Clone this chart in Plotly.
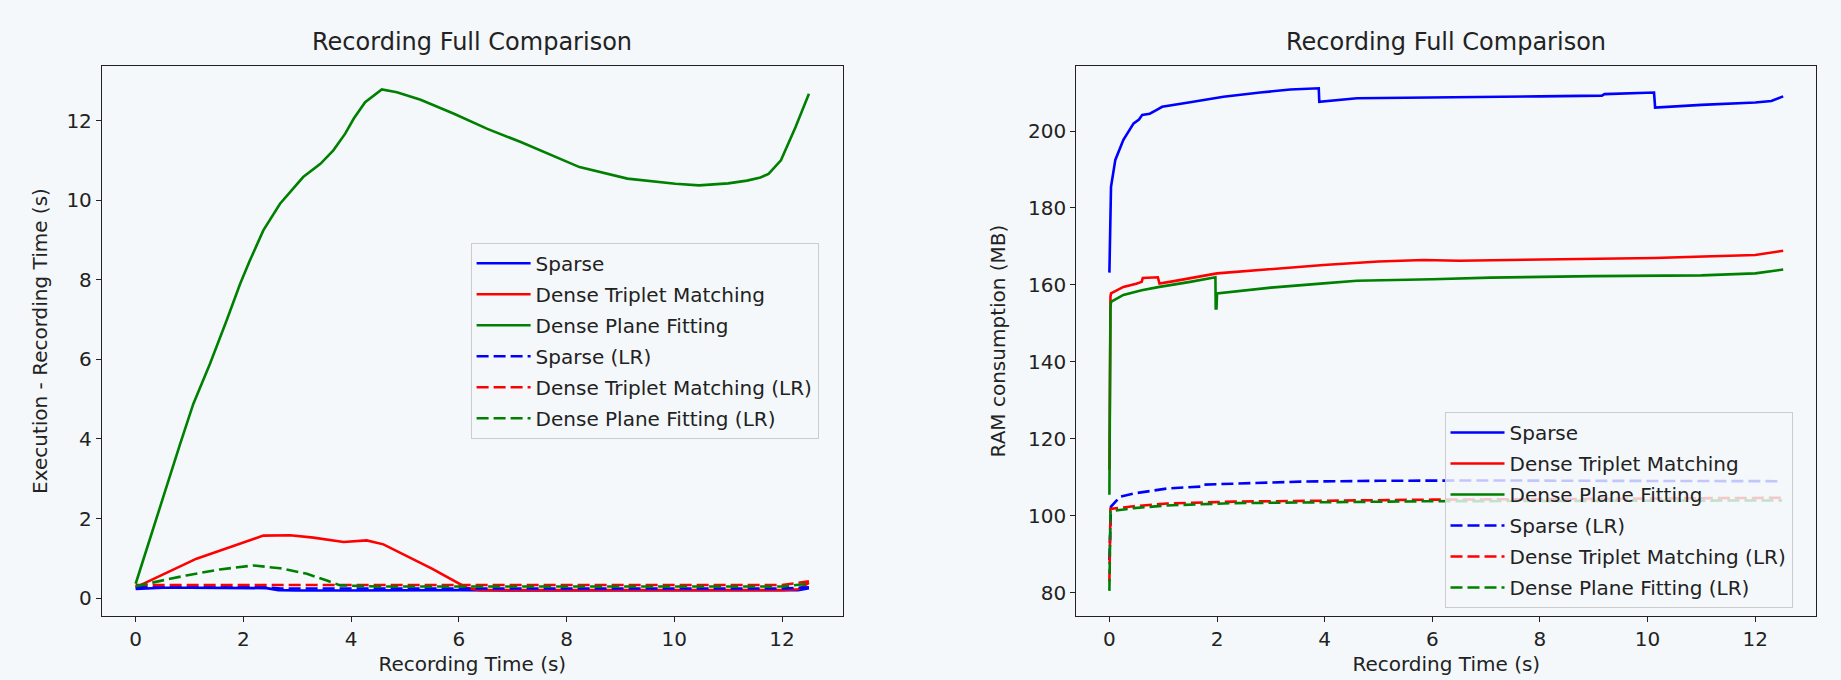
import plotly.graph_objects as go

# ---------------- Left panel: Execution - Recording Time (s) ----------------
L_sparse_t = [0, 0.5, 1.0, 1.5, 2.0, 2.43, 2.65, 3.0, 4.0, 5.0, 6.0, 7.0, 8.0, 9.0, 10.0, 11.0, 12.0, 12.3, 12.5]
L_sparse_v = [0.23, 0.26, 0.26, 0.25, 0.25, 0.25, 0.20, 0.19, 0.19, 0.20, 0.20, 0.19, 0.19, 0.19, 0.19, 0.19, 0.19, 0.20, 0.25]

L_triplet_t = [0, 0.5, 1.13, 1.8, 2.37, 2.87, 3.3, 3.86, 4.29, 4.6, 5.0, 5.5, 6.16, 6.4, 8.0, 10.0, 12.0, 12.3, 12.5]
L_triplet_v = [0.27, 0.59, 0.99, 1.30, 1.57, 1.58, 1.52, 1.41, 1.45, 1.35, 1.08, 0.74, 0.25, 0.20, 0.20, 0.20, 0.20, 0.22, 0.38]

L_plane_t = [0, 0.51, 0.82, 1.07, 1.38, 1.69, 1.94, 2.12, 2.37, 2.68, 3.11, 3.43, 3.67, 3.89, 4.05, 4.26, 4.57,
             4.85, 5.29, 5.91, 6.53, 7.15, 7.8, 8.24, 9.13, 10.02, 10.46, 11.0, 11.35, 11.6, 11.75, 11.98, 12.25, 12.5]
L_plane_v = [0.36, 2.55, 3.85, 4.88, 5.89, 6.98, 7.90, 8.48, 9.24, 9.91, 10.58, 10.91, 11.25, 11.67, 12.05, 12.46,
             12.78, 12.71, 12.52, 12.17, 11.79, 11.46, 11.08, 10.83, 10.54, 10.41, 10.37, 10.42, 10.49, 10.57,
             10.66, 11.0, 11.83, 12.67]

L_sparse_lr_t = [0, 1.0, 2.4, 2.7, 4.0, 6.0, 8.0, 10.0, 12.0, 12.5]
L_sparse_lr_v = [0.27, 0.27, 0.27, 0.24, 0.24, 0.24, 0.24, 0.24, 0.24, 0.27]

L_triplet_lr_t = [0, 2.0, 4.0, 6.0, 8.0, 10.0, 12.0, 12.5]
L_triplet_lr_v = [0.33, 0.33, 0.32, 0.33, 0.33, 0.33, 0.33, 0.42]

L_plane_lr_t = [0, 0.94, 1.56, 2.18, 2.68, 3.18, 3.55, 3.8, 4.5, 6.0, 8.0, 10.0, 12.0, 12.5]
L_plane_lr_v = [0.30, 0.57, 0.72, 0.82, 0.75, 0.61, 0.44, 0.32, 0.29, 0.29, 0.29, 0.29, 0.29, 0.36]

# ---------------- Right panel: RAM consumption (MB) ----------------
R_sparse_t = [0, 0.01, 0.03, 0.11, 0.26, 0.45, 0.55, 0.61, 0.75, 0.88, 0.98, 1.5, 2.12, 2.8, 3.36, 3.89, 3.9,
              4.6, 6.0, 7.08, 8.0, 9.15, 9.2, 10.12, 10.14, 11.0, 12.0, 12.3, 12.52]
R_sparse_v = [163.2, 172.0, 185.5, 192.5, 197.7, 202.0, 203.0, 204.2, 204.5, 205.5, 206.3, 207.5, 208.9, 210.0,
              210.8, 211.1, 207.6, 208.5, 208.7, 208.7, 209.0, 209.2, 209.6, 210.0, 206.1, 206.8, 207.4, 207.8, 209.0]

R_triplet_t = [0, 0.005, 0.02, 0.03, 0.26, 0.5, 0.6, 0.62, 0.9, 0.93, 1.2, 2.0, 3.0, 3.98, 5.0, 5.84, 6.5, 8.0,
               10.13, 12.0, 12.52]
R_triplet_v = [112.0, 140.0, 157.0, 157.8, 159.5, 160.3, 160.8, 161.8, 162.0, 160.4, 161.0, 163.0, 164.2, 165.2,
               166.1, 166.5, 166.3, 166.6, 167.0, 167.8, 168.9]

R_plane_t = [0, 0.005, 0.02, 0.03, 0.26, 0.6, 0.93, 1.5, 1.97, 1.975, 1.99, 2.0, 3.0, 3.98, 4.6, 6.0, 7.08, 9.0,
             11.0, 12.0, 12.52]
R_plane_v = [105.5, 130.0, 154.0, 155.6, 157.4, 158.6, 159.5, 160.8, 162.0, 153.9, 153.9, 157.8, 159.3, 160.4,
             161.1, 161.5, 161.9, 162.3, 162.5, 163.0, 164.0]

R_sparse_lr_t = [0, 0.03, 0.2, 0.45, 1.07, 1.69, 1.72, 2.93, 3.55, 5.0, 7.0, 9.0, 11.0, 12.5]
R_sparse_lr_v = [88.5, 102.4, 105.0, 105.8, 107.1, 107.6, 108.1, 108.6, 108.9, 109.1, 109.2, 109.1, 109.0, 109.0]

R_triplet_lr_t = [0, 0.02, 0.45, 1.07, 2.31, 3.55, 6.0, 9.0, 12.5]
R_triplet_lr_v = [83.0, 101.8, 102.5, 103.2, 103.7, 103.9, 104.2, 104.4, 104.7]

R_plane_lr_t = [0, 0.02, 0.45, 1.07, 2.31, 3.55, 6.0, 9.0, 12.5]
R_plane_lr_v = [80.5, 101.2, 102.0, 102.7, 103.3, 103.5, 103.8, 103.9, 104.0]

names = ["Sparse", "Dense Triplet Matching", "Dense Plane Fitting",
         "Sparse (LR)", "Dense Triplet Matching (LR)", "Dense Plane Fitting (LR)"]
colors = ["#0000ff", "#ff0000", "#008000", "#0000ff", "#ff0000", "#008000"]
dashes = ["solid", "solid", "solid", "12px,5px", "12px,5px", "12px,5px"]

left_series = [(L_sparse_t, L_sparse_v), (L_triplet_t, L_triplet_v), (L_plane_t, L_plane_v),
               (L_sparse_lr_t, L_sparse_lr_v), (L_triplet_lr_t, L_triplet_lr_v), (L_plane_lr_t, L_plane_lr_v)]
right_series = [(R_sparse_t, R_sparse_v), (R_triplet_t, R_triplet_v), (R_plane_t, R_plane_v),
                (R_sparse_lr_t, R_sparse_lr_v), (R_triplet_lr_t, R_triplet_lr_v), (R_plane_lr_t, R_plane_lr_v)]

W, H = 1841, 680
BG = "#f4f8fb"
FONT = "DejaVu Sans"
TXT = "#222222"

fig = go.Figure()
for i, (t, v) in enumerate(left_series):
    fig.add_trace(go.Scatter(x=t, y=v, mode="lines", name=names[i], xaxis="x", yaxis="y",
                             legendgroup="L%d" % i,
                             line=dict(color=colors[i], width=2.6, dash=dashes[i]), legend="legend"))
for i, (t, v) in enumerate(right_series):
    fig.add_trace(go.Scatter(x=t, y=v, mode="lines", name=names[i], xaxis="x2", yaxis="y2",
                             legendgroup="R%d" % i,
                             line=dict(color=colors[i], width=2.6, dash=dashes[i]), legend="legend2"))

def px_x(p):
    return p / W

def px_y(p):
    return (H - p) / H

axis_common = dict(showline=True, mirror=True, linecolor="#222222", linewidth=1.3, ticks="outside",
                   ticklen=5, tickwidth=1.2, tickcolor="#222222", showgrid=False, zeroline=False,
                   tickfont=dict(family=FONT, size=20, color=TXT))

ydom = [px_y(616), px_y(66)]

legend_common = dict(xanchor="left", yanchor="top", bgcolor="rgba(244,248,251,0.8)",
                     bordercolor="#cccccc", borderwidth=1, font=dict(family=FONT, size=20, color=TXT),
                     itemwidth=54, traceorder="grouped", tracegroupgap=2)

fig.update_layout(
    width=W, height=H, template="none",
    paper_bgcolor=BG, plot_bgcolor=BG,
    margin=dict(l=0, r=0, t=0, b=0),
    font=dict(family=FONT, size=20, color=TXT),
    xaxis=dict(domain=[px_x(102), px_x(842.6)], range=[-0.625, 13.125], tickvals=[0, 2, 4, 6, 8, 10, 12],
               title=dict(text="Recording Time (s)", font=dict(family=FONT, size=20, color=TXT), standoff=6),
               anchor="y", **axis_common),
    yaxis=dict(domain=ydom, range=[-0.45, 13.37], tickvals=[0, 2, 4, 6, 8, 10, 12],
               title=dict(text="Execution - Recording Time (s)", font=dict(family=FONT, size=20, color=TXT), standoff=13),
               anchor="x", **axis_common),
    xaxis2=dict(domain=[px_x(1076.3), px_x(1816.3)], range=[-0.615, 13.135], tickvals=[0, 2, 4, 6, 8, 10, 12],
                title=dict(text="Recording Time (s)", font=dict(family=FONT, size=20, color=TXT), standoff=6),
                anchor="y2", **axis_common),
    yaxis2=dict(domain=ydom, range=[73.97, 216.9], tickvals=[80, 100, 120, 140, 160, 180, 200],
                title=dict(text="RAM consumption (MB)", font=dict(family=FONT, size=20, color=TXT), standoff=16),
                anchor="x2", **axis_common),
    legend=dict(x=px_x(470.6), y=px_y(242.8), **legend_common),
    legend2=dict(x=px_x(1444.5), y=px_y(412), **legend_common),
    annotations=[
        dict(text="Recording Full Comparison", x=px_x(472.3), y=px_y(42), xref="paper", yref="paper",
             xanchor="center", yanchor="middle", showarrow=False, font=dict(family=FONT, size=24, color=TXT)),
        dict(text="Recording Full Comparison", x=px_x(1446.3), y=px_y(42), xref="paper", yref="paper",
             xanchor="center", yanchor="middle", showarrow=False, font=dict(family=FONT, size=24, color=TXT)),
    ],
)

fig.write_html("out.html", config={"displayModeBar": False},
               post_script="document.body.style.margin='0';document.body.style.overflow='hidden';")
